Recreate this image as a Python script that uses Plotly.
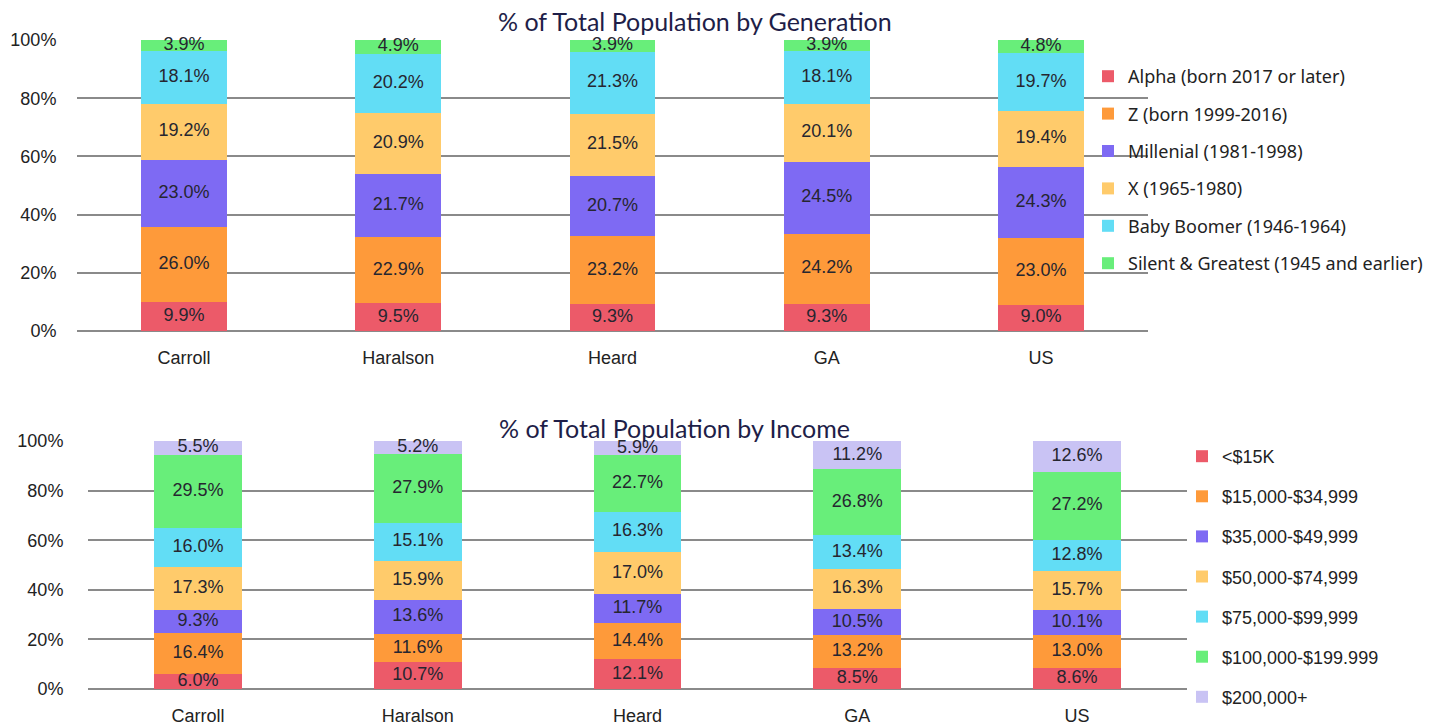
import plotly.graph_objects as go

# The page body has an 8px margin; the figure is shrunk by that amount so it fits the window.
OFF = 8
W, H = 1439 - OFF, 727 - OFF

regions = ["Carroll", "Haralson", "Heard", "GA", "US"]

gen_names = ["Alpha (born 2017 or later)", "Z (born 1999-2016)", "Millenial (1981-1998)",
             "X (1965-1980)", "Baby Boomer (1946-1964)", "Silent & Greatest (1945 and earlier)"]
gen_alpha = [9.9, 9.5, 9.3, 9.3, 9.0]
gen_z = [26.0, 22.9, 23.2, 24.2, 23.0]
gen_mill = [23.0, 21.7, 20.7, 24.5, 24.3]
gen_x = [19.2, 20.9, 21.5, 20.1, 19.4]
gen_boomer = [18.1, 20.2, 21.3, 18.1, 19.7]
gen_silent = [3.9, 4.9, 3.9, 3.9, 4.8]
gen_values = [gen_alpha, gen_z, gen_mill, gen_x, gen_boomer, gen_silent]

inc_names = ["<$15K", "$15,000-$34,999", "$35,000-$49,999", "$50,000-$74,999",
             "$75,000-$99,999", "$100,000-$199.999", "$200,000+"]
inc_lt15 = [6.0, 10.7, 12.1, 8.5, 8.6]
inc_15_35 = [16.4, 11.6, 14.4, 13.2, 13.0]
inc_35_50 = [9.3, 13.6, 11.7, 10.5, 10.1]
inc_50_75 = [17.3, 15.9, 17.0, 16.3, 15.7]
inc_75_100 = [16.0, 15.1, 16.3, 13.4, 12.8]
inc_100_200 = [29.5, 27.9, 22.7, 26.8, 27.2]
inc_200p = [5.5, 5.2, 5.9, 11.2, 12.6]
inc_values = [inc_lt15, inc_15_35, inc_35_50, inc_50_75, inc_75_100, inc_100_200, inc_200p]

gen_colors = ["#EC5A69", "#FE9A3A", "#7E6AF3", "#FFCB6B", "#62DDF5", "#68EE7A"]
inc_colors = ["#EC5A69", "#FE9A3A", "#7E6AF3", "#FFCB6B", "#62DDF5", "#68EE7A", "#C9C3F4"]

BASE = "Liberation Sans, Arial, sans-serif"
TXT = "#262630"

fig = go.Figure()


def add_stack(names, values, colors, xa, ya, leg, grp):
    base = [0.0] * len(regions)
    for i, (name, vals) in enumerate(zip(names, values)):
        fig.add_trace(go.Bar(
            x=regions, y=vals, name=name,
            marker=dict(color=colors[i], line=dict(width=0)),
            xaxis=xa, yaxis=ya, legend=leg, legendgroup="%s%d" % (grp, i),
            width=0.4, cliponaxis=False, hoverinfo="skip",
        ))
        mids = [b + v / 2 for b, v in zip(base, vals)]
        fig.add_trace(go.Scatter(
            x=regions, y=mids, mode="text", text=["%.1f%%" % v for v in vals],
            textposition="middle center",
            textfont=dict(family=BASE, size=18, color=TXT),
            xaxis=xa, yaxis=ya, showlegend=False, cliponaxis=False, hoverinfo="skip",
            legendgroup="%s%d" % (grp, i), legend=leg,
        ))
        base = [b + v for b, v in zip(base, vals)]


add_stack(gen_names, gen_values, gen_colors, "x", "y", "legend", "g")
add_stack(inc_names, inc_values, inc_colors, "x2", "y2", "legend2", "i")


def px_x(p):
    return (p - OFF) / W


def px_y(p):
    return 1 - (p - OFF) / H


axis_common = dict(showline=False, tickfont=dict(family=BASE, size=18, color="#222"),
                   ticks="outside", tickcolor="rgba(0,0,0,0)", automargin=False,
                   fixedrange=True)
grid = dict(showgrid=True, gridcolor="#8a8a8a", gridwidth=1.5,
            zeroline=True, zerolinecolor="#8a8a8a", zerolinewidth=1.5)

fig.update_layout(
    width=W, height=H, barmode="stack",
    paper_bgcolor="white", plot_bgcolor="white",
    margin=dict(l=0, r=0, t=0, b=0, autoexpand=False),
    showlegend=True,
    xaxis=dict(domain=[px_x(77), px_x(1148)], anchor="y", showgrid=False, zeroline=False,
               ticklen=10, **axis_common),
    yaxis=dict(domain=[px_y(331), px_y(40)], anchor="x", range=[0, 100], dtick=20,
               ticksuffix="%", ticklen=16, **grid, **axis_common),
    xaxis2=dict(domain=[px_x(88), px_x(1187)], anchor="y2", showgrid=False, zeroline=False,
                ticklen=10, **axis_common),
    yaxis2=dict(domain=[px_y(689), px_y(441)], anchor="x2", range=[0, 100], dtick=20,
                ticksuffix="%", ticklen=20, **grid, **axis_common),
    legend=dict(xref="container", yref="container", x=px_x(1088), y=px_y(58),
                xanchor="left", yanchor="top",
                traceorder="grouped", tracegroupgap=11, bgcolor="rgba(0,0,0,0)",
                font=dict(family="Noto Sans, sans-serif", size=18, color="#222"),
                itemwidth=30),
    legend2=dict(xref="container", yref="container", x=px_x(1182), y=px_y(438),
                 xanchor="left", yanchor="top",
                 traceorder="grouped", tracegroupgap=13.7, bgcolor="rgba(0,0,0,0)",
                 font=dict(family=BASE, size=18, color="#222"),
                 itemwidth=30),
    annotations=[
        dict(text="% of Total Population by Generation", x=px_x(695), y=px_y(21),
             xref="paper", yref="paper", xanchor="center", yanchor="middle", showarrow=False,
             font=dict(family="Lato, sans-serif", size=25, color="#1e1e48")),
        dict(text="% of Total Population by Income", x=px_x(674), y=px_y(428),
             xref="paper", yref="paper", xanchor="center", yanchor="middle", showarrow=False,
             font=dict(family="Lato, sans-serif", size=25, color="#1e1e48")),
    ],
)

fig.write_html("out.html")
